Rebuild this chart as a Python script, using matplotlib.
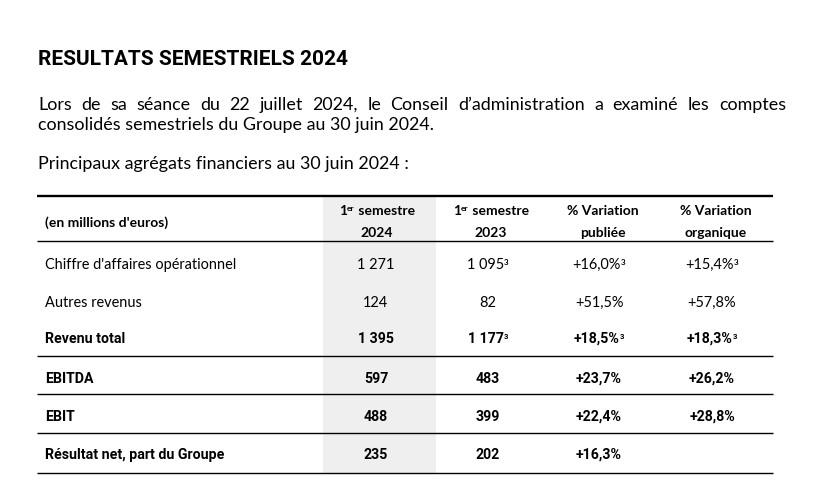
import matplotlib
matplotlib.use("Agg")
import matplotlib.pyplot as plt
from matplotlib import font_manager as fm

# ---------------- data ----------------
title = "RESULTATS SEMESTRIELS 2024"
para_line1 = "Lors de sa séance du 22 juillet 2024, le Conseil d’administration a examiné les comptes"
para_line2 = "consolidés semestriels du Groupe au 30 juin 2024."
para_line3 = "Principaux agrégats financiers au 30 juin 2024 :"

unit_label = "(en millions d'euros)"
col_head_top = ["semestre", "semestre", "% Variation", "% Variation"]
col_head_bot = ["2024", "2023", "publiée", "organique"]
col_head_prefix = [True, True, False, False]   # "1er" before "semestre"

row_labels = ["Chiffre d'affaires opérationnel", "Autres revenus", "Revenu total",
              "EBITDA", "EBIT", "Résultat net, part du Groupe"]
s1_2024 = ["1 271", "124", "1 395", "597", "488", "235"]
s1_2023 = ["1 095", "82", "1 177", "483", "399", "202"]
var_pub = ["+16,0%", "+51,5%", "+18,5%", "+23,7%", "+22,4%", "+16,3%"]
var_org = ["+15,4%", "+57,8%", "+18,3%", "+26,2%", "+28,8%", ""]
note_2023 = [True, False, True, False, False, False]
note_pub = [True, False, True, False, False, False]
note_org = [True, False, True, False, False, False]
bold_rows = [False, False, True, True, True, True]

# ---------------- figure ----------------
W, H = 831, 487
fig = plt.figure(figsize=(W / 100, H / 100), dpi=100)
ax = fig.add_axes([0, 0, 1, 1])
ax.set_xlim(0, W)
ax.set_ylim(H, 0)
ax.axis("off")
fig.patch.set_facecolor("white")
r = fig.canvas.get_renderer()


def pick(cands):
    for f in cands:
        try:
            fm.findfont(fm.FontProperties(family=f), fallback_to_default=False)
            return f
        except Exception:
            pass
    return "DejaVu Sans"


F_BODY = pick(["Lato", "Open Sans", "Noto Sans", "DejaVu Sans"])
F_TITLE = pick(["Liberation Sans Narrow", "Roboto", "Lato", "DejaVu Sans"])
F_TBOLD = pick(["Liberation Sans Narrow", "Roboto", "Lato", "DejaVu Sans"])


def width(s, size, fam, weight="normal"):
    t = ax.text(0, 0, s, fontsize=size, family=fam, weight=weight)
    bb = t.get_window_extent(renderer=r)
    t.remove()
    return bb.width


def fit(s, target, fam, weight="normal"):
    return 10 * target / width(s, 10, fam, weight)


sz_title = fit(title, 309, F_TITLE, "bold")
sz_body = fit(para_line2, 395, F_BODY)
sz_treg = fit(row_labels[0], 192, F_BODY)
sz_thead = fit(unit_label, 123, F_BODY, "bold")
sz_tbold = fit(row_labels[5], 179, F_TBOLD, "bold")


def runs(x, y, parts, ha="center"):
    """parts: list of (text, size, family, weight, dy)."""
    ws = [width(t, s, f, w) for t, s, f, w, _ in parts]
    tot = sum(ws)
    x0 = x - tot / 2 if ha == "center" else x
    for (t, s, f, w, dy), wd in zip(parts, ws):
        ax.text(x0, y + dy, t, fontsize=s, family=f, weight=w, ha="left",
                va="baseline", color="black")
        x0 += wd


# title
ax.text(38, 65, title, fontsize=sz_title, family=F_TITLE, weight="bold",
        va="baseline", ha="left", color="black")

# justified first line
words = para_line1.split()
ws = [width(w_, sz_body, F_BODY) for w_ in words]
gap = (786 - 38 - sum(ws)) / (len(words) - 1)
x = 38
for w_, wd in zip(words, ws):
    ax.text(x, 110, w_, fontsize=sz_body, family=F_BODY, va="baseline", ha="left")
    x += wd + gap
ax.text(38, 130, para_line2, fontsize=sz_body, family=F_BODY, va="baseline", ha="left")
ax.text(38, 169, para_line3, fontsize=sz_body, family=F_BODY, va="baseline", ha="left")

# ---------------- table ----------------
x_left, x_right = 37, 773
head_x = [377, 491, 603, 716]
val_x = [376, 488, 599, 712]
grey_x0, grey_x1 = 323, 436
y_top, y_head, y_bottom = 196, 241, 473
sep_lines = [356, 394, 433]
row_base = [269, 307, 343, 383, 421, 459]

ax.add_patch(plt.Rectangle((grey_x0, y_top), grey_x1 - grey_x0, y_bottom - y_top,
                           facecolor="#efefef", edgecolor="none", zorder=0))
ax.plot([x_left, x_right], [y_top, y_top], color="black", lw=1.7, solid_capstyle="butt")
ax.plot([x_left, x_right], [y_head, y_head], color="black", lw=1.0, solid_capstyle="butt")
for yl in sep_lines + [y_bottom]:
    ax.plot([x_left, x_right], [yl, yl], color="black", lw=1.0, solid_capstyle="butt")

# header
ax.text(45, 227, unit_label, fontsize=sz_thead, family=F_BODY, weight="bold",
        va="baseline", ha="left")
for cx, top, bot, pre in zip(head_x, col_head_top, col_head_bot, col_head_prefix):
    if pre:
        runs(cx, 215, [("1", sz_thead, F_BODY, "bold", 0),
                       ("er", sz_thead * 0.6, F_BODY, "bold", -4),
                       (" " + top, sz_thead, F_BODY, "bold", 0)])
    else:
        runs(cx, 215, [(top, sz_thead, F_BODY, "bold", 0)])
    runs(cx, 237, [(bot, sz_thead, F_BODY, "bold", 0)])

# rows
cols = [s1_2024, s1_2023, var_pub, var_org]
notes = [[False] * 6, note_2023, note_pub, note_org]
for i, lab in enumerate(row_labels):
    b = bold_rows[i]
    fam = F_TBOLD if b else F_BODY
    sz = sz_tbold if b else sz_treg
    wt = "bold" if b else "normal"
    yb = row_base[i]
    ax.text(45, yb, lab, fontsize=sz, family=fam, weight=wt, va="baseline", ha="left")
    for cx, vals, nts in zip(val_x, cols, notes):
        v = vals[i]
        if not v:
            continue
        parts = [(v, sz, fam, wt, 0)]
        if nts[i]:
            parts.append(("3", sz * 0.55, fam, "bold", -4))
        runs(cx, yb, parts)

fig.savefig("out.png", dpi=100, facecolor="white")
